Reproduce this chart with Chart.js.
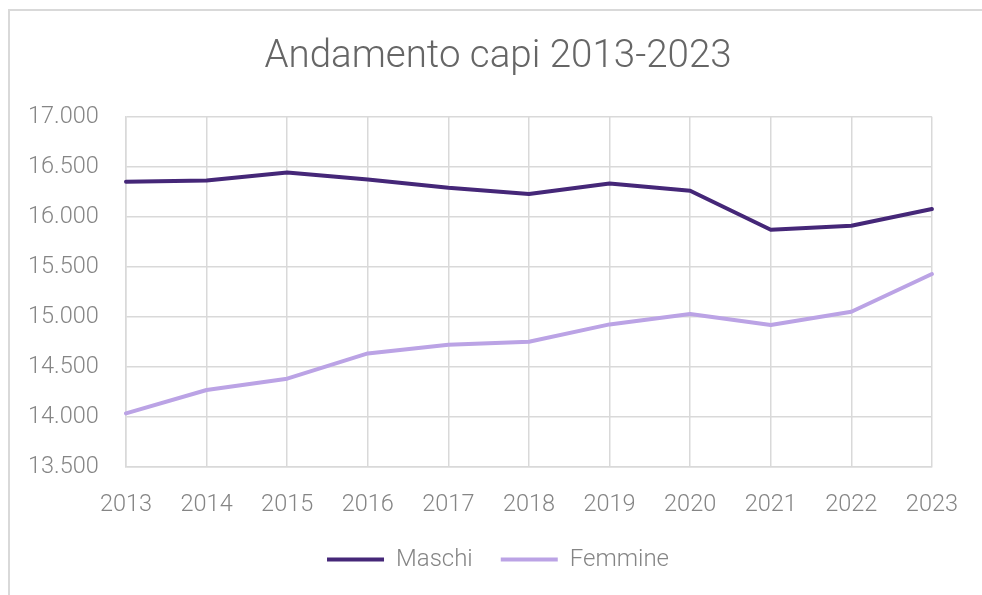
<!DOCTYPE html>
<html>
<head>
<meta charset="utf-8">
<script src="https://cdn.jsdelivr.net/npm/chart.js@4/dist/chart.umd.min.js"></script>
<style>
  html, body { margin: 0; padding: 0; background: #fff; }
  #frame { position: absolute; left: 8px; top: 9px; width: 1000px; height: 600px;
           border-left: 2px solid #d9d9d9; border-top: 2px solid #d9d9d9; }
  #wrap { position: absolute; left: 0; top: 0; width: 982px; height: 595px; }
</style>
</head>
<body>
<div id="frame"></div>
<div id="wrap"><canvas id="chartCapi"></canvas></div>
<script>
// dati
var years = ['2013', '2014', '2015', '2016', '2017', '2018', '2019', '2020', '2021', '2022', '2023'];
var maschi = [16350, 16362, 16443, 16373, 16290, 16227, 16333, 16260, 15870, 15910, 16077];
var femmine = [14033, 14267, 14380, 14633, 14720, 14750, 14923, 15027, 14917, 15050, 15427];
var yMin = 13500;
var yMax = 17000;
var yStep = 500;

var fmt = function (v) {
    return String(v).replace(/\B(?=(\d{3})+(?!\d))/g, '.');
};

var gridColor = '#d9d9d9';
var tickColor = '#858585';

var ctx = document.getElementById('chartCapi');
var myLineChart = new Chart(ctx, {
    type: 'line',
    data: {
        labels: years,
        datasets: [
            {
                label: 'Maschi',
                data: maschi,
                borderColor: '#452778',
                backgroundColor: '#452778',
                borderWidth: 4,
                tension: 0,
                pointRadius: 0,
                borderCapStyle: 'round',
                borderJoinStyle: 'round',
                fill: false
            },
            {
                label: 'Femmine',
                data: femmine,
                borderColor: '#bba3e5',
                backgroundColor: '#bba3e5',
                borderWidth: 4,
                tension: 0,
                pointRadius: 0,
                borderCapStyle: 'round',
                borderJoinStyle: 'round',
                fill: false
            }
        ]
    },
    options: {
        responsive: true,
        maintainAspectRatio: false,
        animation: false,
        layout: { padding: { left: 64, right: 50, top: 0, bottom: 13.5 } },
        plugins: {
            title: {
                display: true,
                text: 'Andamento capi 2013-2023',
                color: '#666666',
                font: { family: 'Roboto', size: 38.5, weight: '300' },
                padding: { top: 34, bottom: 36.5 }
            },
            legend: {
                position: 'bottom',
                labels: {
                    usePointStyle: true,
                    pointStyle: 'line',
                    pointStyleWidth: 57,
                    color: tickColor,
                    padding: 28,
                    font: { family: 'Roboto', size: 24, weight: '300' }
                }
            },
            tooltip: { enabled: false }
        },
        scales: {
            x: {
                offset: false,
                grid: { color: gridColor, lineWidth: 1.5, drawTicks: false },
                border: { color: gridColor, width: 1.5 },
                ticks: {
                    color: tickColor,
                    padding: 24,
                    maxRotation: 0,
                    font: { family: 'Roboto', size: 23.5, weight: '300' }
                },
                afterFit: function (scale) { scale.height = 52.8; }
            },
            y: {
                min: yMin,
                max: yMax,
                grid: { color: gridColor, lineWidth: 1.5, drawTicks: false },
                border: { color: gridColor, width: 1.5 },
                ticks: {
                    stepSize: yStep,
                    color: tickColor,
                    // mirror evita il taglio delle etichette fuori dal box dell'asse
                    mirror: true,
                    crossAlign: 'near',
                    padding: -98,
                    font: { family: 'Roboto', size: 23.5, weight: '300' },
                    callback: function (v) { return fmt(v); }
                },
                afterFit: function (scale) { scale.width = 62; }
            }
        }
    }
});
</script>
</body>
</html>
